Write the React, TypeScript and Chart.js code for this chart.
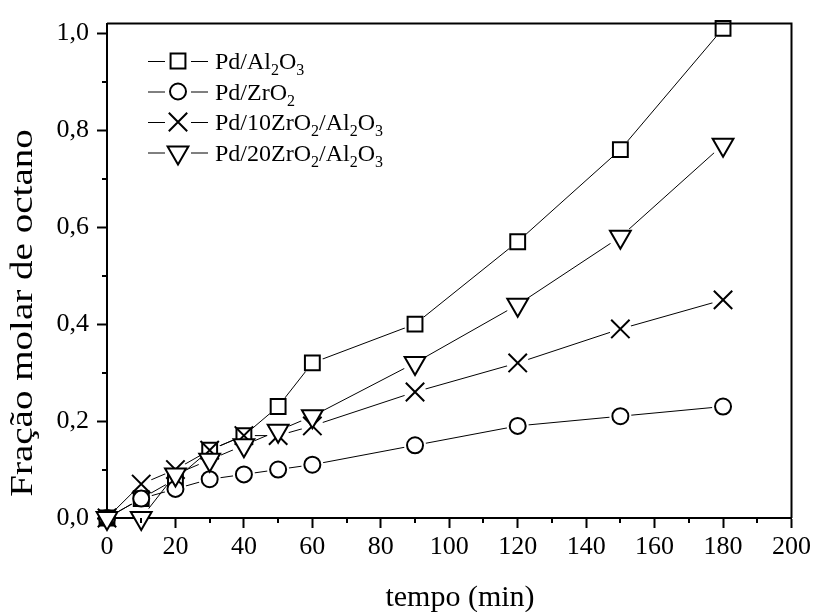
import { useEffect, useRef } from 'react';
import { Chart, registerables, PointElement } from 'chart.js';

Chart.register(...registerables);

// Reaction time (min)
const tempo = [0, 10, 20, 30, 40, 50, 60, 90, 120, 150, 180];

// Octane molar fraction per catalyst
const pdAl2O3 = [0, 0.04, 0.08, 0.14, 0.17, 0.23, 0.32, 0.40, 0.57, 0.76, 1.01];
const pdZrO2 = [0, 0.04, 0.06, 0.08, 0.09, 0.10, 0.11, 0.15, 0.19, 0.21, 0.23];
const pd10ZrO2Al2O3 = [0, 0.07, 0.10, 0.14, 0.17, 0.17, 0.19, 0.26, 0.32, 0.39, 0.45];
const pd20ZrO2Al2O3 = [0, 0.00, 0.09, 0.12, 0.15, 0.18, 0.21, 0.32, 0.44, 0.58, 0.77];

// Axis ticks
const xTickValues = [0, 20, 40, 60, 80, 100, 120, 140, 160, 180, 200];
const xTickLabels = ['0', '20', '40', '60', '80', '100', '120', '140', '160', '180', '200'];
const xMinorTicks = [10, 30, 50, 70, 90, 110, 130, 150, 170, 190];
const yTickValues = [0, 0.2, 0.4, 0.6, 0.8, 1.0];
const yTickLabels = ['0,0', '0,2', '0,4', '0,6', '0,8', '1,0'];
const yMinorTicks = [0.1, 0.3, 0.5, 0.7, 0.9];

const xTitle = 'tempo (min)';
const yTitle = 'Fração molar de octano';

// Legend labels as [text, subscript] runs
type Run = [string, boolean];
const labelAl2O3: Run[] = [['Pd/Al', false], ['2', true], ['O', false], ['3', true]];
const labelZrO2: Run[] = [['Pd/ZrO', false], ['2', true]];
const label10: Run[] = [['Pd/10ZrO', false], ['2', true], ['/Al', false], ['2', true], ['O', false], ['3', true]];
const label20: Run[] = [['Pd/20ZrO', false], ['2', true], ['/Al', false], ['2', true], ['O', false], ['3', true]];

const FONT = "'Liberation Serif', 'Times New Roman', serif";

type Marker = { style: string; radius: number; rotation: number; gap: number };

const series: { label: Run[]; values: number[]; marker: Marker }[] = [
  { label: labelAl2O3, values: pdAl2O3, marker: { style: 'rect', radius: 10.5, rotation: 0, gap: 11 } },
  { label: labelZrO2, values: pdZrO2, marker: { style: 'circle', radius: 8, rotation: 0, gap: 11 } },
  { label: label10, values: pd10ZrO2Al2O3, marker: { style: 'crossRot', radius: 13, rotation: 0, gap: 11 } },
  { label: label20, values: pd20ZrO2Al2O3, marker: { style: 'triangle', radius: 12, rotation: 180, gap: 12 } },
];

// Leaves a small gap in each connecting line around its own markers
const lineGapPlugin = {
  id: 'lineGap',
  beforeDatasetDraw(chart: any, args: any) {
    const ds = chart.data.datasets[args.index];
    if (!ds.gapOf) return;
    const markerMeta = chart.getDatasetMeta(ds.gapOf.markerIndex);
    const ctx = chart.ctx;
    ctx.save();
    ctx.beginPath();
    ctx.rect(0, 0, chart.width, chart.height);
    markerMeta.data.forEach((pt: any) => {
      ctx.moveTo(pt.x + ds.gapOf.r, pt.y);
      ctx.arc(pt.x, pt.y, ds.gapOf.r, 0, Math.PI * 2);
    });
    ctx.clip('evenodd');
  },
  afterDatasetDraw(chart: any, args: any) {
    const ds = chart.data.datasets[args.index];
    if (!ds.gapOf) return;
    chart.ctx.restore();
  },
};

// Frame, minor ticks, axis titles and legend
const framePlugin = {
  id: 'frame',
  afterDraw(chart: any) {
    const { ctx, chartArea } = chart;
    const xs = chart.scales.x;
    const ys = chart.scales.y;
    ctx.save();
    ctx.strokeStyle = '#000';
    ctx.lineWidth = 2;
    ctx.beginPath();
    ctx.moveTo(chartArea.left, chartArea.top);
    ctx.lineTo(chartArea.right, chartArea.top);
    ctx.lineTo(chartArea.right, chartArea.bottom);
    ctx.stroke();

    ctx.beginPath();
    xMinorTicks.forEach((v) => {
      const px = Math.round(xs.getPixelForValue(v));
      ctx.moveTo(px, chartArea.bottom);
      ctx.lineTo(px, chartArea.bottom + 5);
    });
    yMinorTicks.forEach((v) => {
      const py = Math.round(ys.getPixelForValue(v));
      ctx.moveTo(chartArea.left, py);
      ctx.lineTo(chartArea.left - 5, py);
    });
    ctx.stroke();

    // axis titles
    ctx.fillStyle = '#000';
    ctx.textAlign = 'center';
    ctx.textBaseline = 'middle';
    ctx.font = `30px ${FONT}`;
    ctx.fillText(xTitle, 460, 598);

    ctx.save();
    ctx.translate(24, 313);
    ctx.rotate(-Math.PI / 2);
    ctx.scale(1.26, 1);
    ctx.font = `31px ${FONT}`;
    ctx.fillText(yTitle, 0, 0);
    ctx.restore();

    // legend
    const x0 = 148;
    const y0 = 61;
    const rowH = 30.5;
    series.forEach((s, i) => {
      const y = y0 + i * rowH;
      ctx.lineWidth = 1;
      ctx.strokeStyle = '#000';
      ctx.beginPath();
      ctx.moveTo(x0, y + 0.5);
      ctx.lineTo(x0 + 17, y + 0.5);
      ctx.moveTo(x0 + 43, y + 0.5);
      ctx.lineTo(x0 + 60, y + 0.5);
      ctx.stroke();
      const pe: any = new PointElement({});
      pe.x = x0 + 30;
      pe.y = y;
      pe.options = {
        pointStyle: s.marker.style,
        radius: s.marker.radius,
        rotation: s.marker.rotation,
        borderWidth: 2,
        borderColor: '#000',
        backgroundColor: '#fff',
      };
      pe.draw(ctx, chartArea);
      let tx = x0 + 67;
      ctx.fillStyle = '#000';
      ctx.textBaseline = 'alphabetic';
      ctx.textAlign = 'left';
      s.label.forEach(([txt, sub]) => {
        ctx.font = sub ? `16px ${FONT}` : `24px ${FONT}`;
        ctx.fillText(txt, tx, sub ? y + 14 : y + 8);
        tx += ctx.measureText(txt).width;
      });
    });
    ctx.restore();
  },
};

export default function App() {
  const ref = useRef<HTMLCanvasElement | null>(null);

  useEffect(() => {
    const canvas = ref.current;
    if (!canvas) return;
    const datasets: any[] = [];
    series.forEach((s, i) => {
      const pts = tempo.map((t, k) => ({ x: t, y: s.values[k] }));
      const markerIndex = series.length + i;
      datasets[i] = {
        data: pts,
        showLine: true,
        borderColor: '#000',
        borderWidth: 1,
        pointRadius: 0,
        pointHoverRadius: 0,
        order: 10,
        clip: false,
        gapOf: { markerIndex, r: s.marker.gap },
      };
      datasets[markerIndex] = {
        data: pts,
        showLine: false,
        pointStyle: s.marker.style,
        pointRadius: s.marker.radius,
        pointHoverRadius: s.marker.radius,
        pointRotation: s.marker.rotation,
        pointBorderWidth: 2,
        pointBorderColor: '#000',
        pointBackgroundColor: '#fff',
        order: series.length - i,
        clip: false,
      };
    });

    const chart = new Chart(canvas, {
      type: 'scatter',
      data: { datasets },
      options: {
        animation: false,
        responsive: false,
        devicePixelRatio: 1,
        events: [],
        layout: { padding: { left: 0, right: 23, top: 16, bottom: 0 } },
        plugins: { legend: { display: false }, tooltip: { enabled: false } },
        scales: {
          x: {
            type: 'linear',
            min: 0,
            max: 200,
            afterFit: (s: any) => { s.height = 94; },
            afterBuildTicks: (s: any) => { s.ticks = xTickValues.map((v) => ({ value: v })); },
            ticks: {
              color: '#000',
              padding: 4,
              font: { family: FONT, size: 26 },
              callback: (v: any) => xTickLabels[xTickValues.indexOf(Number(v))] ?? '',
            },
            grid: { drawOnChartArea: false, drawTicks: true, tickLength: 10, tickWidth: 2, tickColor: '#000' },
            border: { display: true, color: '#000', width: 2 },
            title: { display: false },
          },
          y: {
            type: 'linear',
            min: 0,
            max: 1.02,
            afterFit: (s: any) => { s.width = 107; },
            afterBuildTicks: (s: any) => { s.ticks = yTickValues.map((v) => ({ value: v })); },
            ticks: {
              color: '#000',
              padding: 8,
              font: { family: FONT, size: 26 },
              callback: (v: any) => {
                const i = yTickValues.findIndex((t) => Math.abs(t - Number(v)) < 1e-6);
                return i >= 0 ? yTickLabels[i] : '';
              },
            },
            grid: { drawOnChartArea: false, drawTicks: true, tickLength: 10, tickWidth: 2, tickColor: '#000' },
            border: { display: true, color: '#000', width: 2 },
            title: { display: false },
          },
        },
      },
      plugins: [lineGapPlugin, framePlugin],
    } as any);

    return () => chart.destroy();
  }, []);

  return (
    <div style={{ position: 'fixed', left: 0, top: 0, width: 815, height: 612, background: '#fff' }}>
      <canvas ref={ref} width={815} height={612} style={{ display: 'block', width: 815, height: 612 }} />
    </div>
  );
}
